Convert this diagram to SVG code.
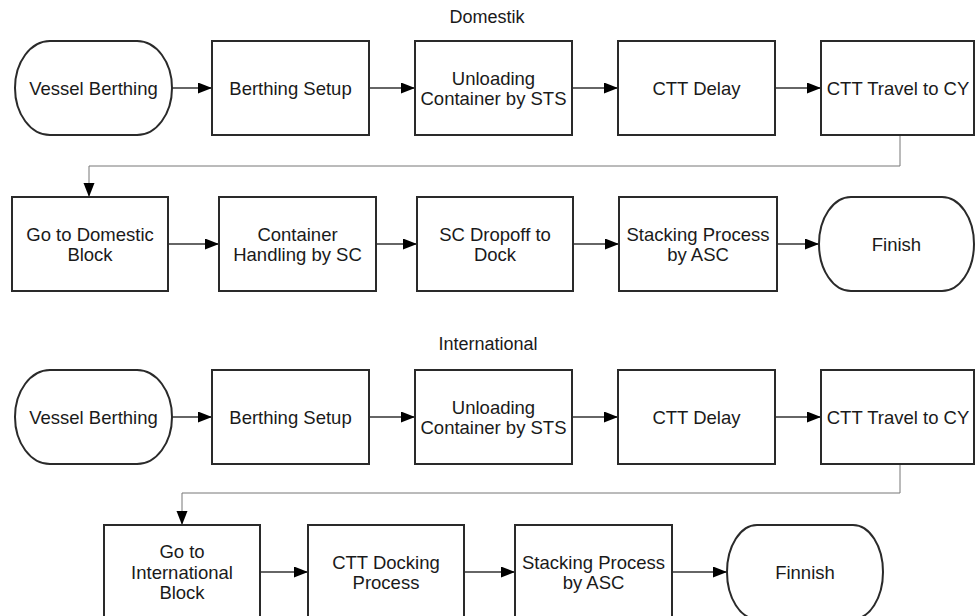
<svg xmlns="http://www.w3.org/2000/svg" width="975" height="616" viewBox="0 0 975 616">
  <defs>
    <marker id="arrow" markerUnits="userSpaceOnUse" markerWidth="15" markerHeight="12" refX="14" refY="5.5" orient="auto">
      <path d="M0,0 L14,5.5 L0,11 Z" fill="#000"/>
    </marker>
    <style>
      .box { fill: #fff; stroke: #2a2a2a; stroke-width: 2; }
      .term { fill: #fff; stroke: #2a2a2a; stroke-width: 2; }
      .lbl { font-family: "Liberation Sans", Arial, sans-serif; font-size: 18.5px; fill: #1a1a1a; text-anchor: middle; }
      .title { font-family: "Liberation Sans", Arial, sans-serif; font-size: 18px; fill: #1a1a1a; text-anchor: middle; }
      .conn { fill: none; stroke: #333; stroke-width: 1.3; marker-end: url(#arrow); }
      .elbow { fill: none; stroke: #777; stroke-width: 1; marker-end: url(#arrow); }
    </style>
  </defs>

  <rect width="975" height="616" fill="#fff"/>

  <!-- section titles -->
  <text class="title" x="487" y="23">Domestik</text>
  <text class="title" x="488" y="350">International</text>

  <!-- connectors -->
  <g id="connectors">
    <!-- Domestik, row 1 -->
    <path class="conn" d="M172,88 H212"/>
    <path class="conn" d="M369,88 H415"/>
    <path class="conn" d="M572,88 H618"/>
    <path class="conn" d="M775,88 H821"/>
    <path class="elbow" d="M900,135 V166 H89 V197"/>
    <!-- Domestik, row 2 -->
    <path class="conn" d="M168,244 H219"/>
    <path class="conn" d="M376,244 H417"/>
    <path class="conn" d="M573,244 H619"/>
    <path class="conn" d="M777,244 H819"/>
    <!-- International, row 1 -->
    <path class="conn" d="M172,417 H212"/>
    <path class="conn" d="M369,417 H415"/>
    <path class="conn" d="M572,417 H618"/>
    <path class="conn" d="M775,417 H821"/>
    <path class="elbow" d="M900,464 V493 H182 V525"/>
    <!-- International, row 2 -->
    <path class="conn" d="M260,572 H308"/>
    <path class="conn" d="M464,572 H515"/>
    <path class="conn" d="M672,572 H727"/>
  </g>

  <!-- Domestik flow -->
  <g id="d_vessel">
    <rect class="term" x="15" y="41" width="157" height="94" rx="35" ry="47"/>
    <text class="lbl" x="93.5" y="94.5">Vessel Berthing</text>
  </g>
  <g id="d_setup">
    <rect class="box" x="212" y="41" width="157" height="94"/>
    <text class="lbl" x="290.5" y="94.5">Berthing Setup</text>
  </g>
  <g id="d_unload">
    <rect class="box" x="415" y="41" width="157" height="94"/>
    <text class="lbl" x="493.5" y="85">Unloading</text>
    <text class="lbl" x="493.5" y="105">Container by STS</text>
  </g>
  <g id="d_delay">
    <rect class="box" x="618" y="41" width="157" height="94"/>
    <text class="lbl" x="696.5" y="94.5">CTT Delay</text>
  </g>
  <g id="d_travel">
    <rect class="box" x="821" y="41" width="153" height="94"/>
    <text class="lbl" x="898" y="94.5">CTT Travel to CY</text>
  </g>
  <g id="d_goto">
    <rect class="box" x="12" y="197" width="156" height="94"/>
    <text class="lbl" x="90" y="240.5">Go to Domestic</text>
    <text class="lbl" x="90" y="260.5">Block</text>
  </g>
  <g id="d_handling">
    <rect class="box" x="219" y="197" width="157" height="94"/>
    <text class="lbl" x="297.5" y="240.5">Container</text>
    <text class="lbl" x="297.5" y="260.5">Handling by SC</text>
  </g>
  <g id="d_dropoff">
    <rect class="box" x="417" y="197" width="156" height="94"/>
    <text class="lbl" x="495" y="240.5">SC Dropoff to</text>
    <text class="lbl" x="495" y="260.5">Dock</text>
  </g>
  <g id="d_stack">
    <rect class="box" x="619" y="197" width="158" height="94"/>
    <text class="lbl" x="698" y="240.5">Stacking Process</text>
    <text class="lbl" x="698" y="260.5">by ASC</text>
  </g>
  <g id="d_finish">
    <rect class="term" x="819" y="197" width="155" height="94" rx="32" ry="47"/>
    <text class="lbl" x="896.5" y="250.5">Finish</text>
  </g>

  <!-- International flow -->
  <g id="i_vessel">
    <rect class="term" x="15" y="370" width="157" height="94" rx="35" ry="47"/>
    <text class="lbl" x="93.5" y="423.5">Vessel Berthing</text>
  </g>
  <g id="i_setup">
    <rect class="box" x="212" y="370" width="157" height="94"/>
    <text class="lbl" x="290.5" y="423.5">Berthing Setup</text>
  </g>
  <g id="i_unload">
    <rect class="box" x="415" y="370" width="157" height="94"/>
    <text class="lbl" x="493.5" y="414">Unloading</text>
    <text class="lbl" x="493.5" y="434">Container by STS</text>
  </g>
  <g id="i_delay">
    <rect class="box" x="618" y="370" width="157" height="94"/>
    <text class="lbl" x="696.5" y="423.5">CTT Delay</text>
  </g>
  <g id="i_travel">
    <rect class="box" x="821" y="370" width="153" height="94"/>
    <text class="lbl" x="898" y="423.5">CTT Travel to CY</text>
  </g>
  <g id="i_goto">
    <rect class="box" x="104" y="525" width="156" height="94"/>
    <text class="lbl" x="182" y="558">Go to</text>
    <text class="lbl" x="182" y="578.5">International</text>
    <text class="lbl" x="182" y="599">Block</text>
  </g>
  <g id="i_dock">
    <rect class="box" x="308" y="525" width="156" height="94"/>
    <text class="lbl" x="386" y="568.5">CTT Docking</text>
    <text class="lbl" x="386" y="588.5">Process</text>
  </g>
  <g id="i_stack">
    <rect class="box" x="515" y="525" width="157" height="94"/>
    <text class="lbl" x="593.5" y="568.5">Stacking Process</text>
    <text class="lbl" x="593.5" y="588.5">by ASC</text>
  </g>
  <g id="i_finnish">
    <rect class="term" x="727" y="525" width="156" height="94" rx="30" ry="47"/>
    <text class="lbl" x="805" y="578.5">Finnish</text>
  </g>
</svg>
